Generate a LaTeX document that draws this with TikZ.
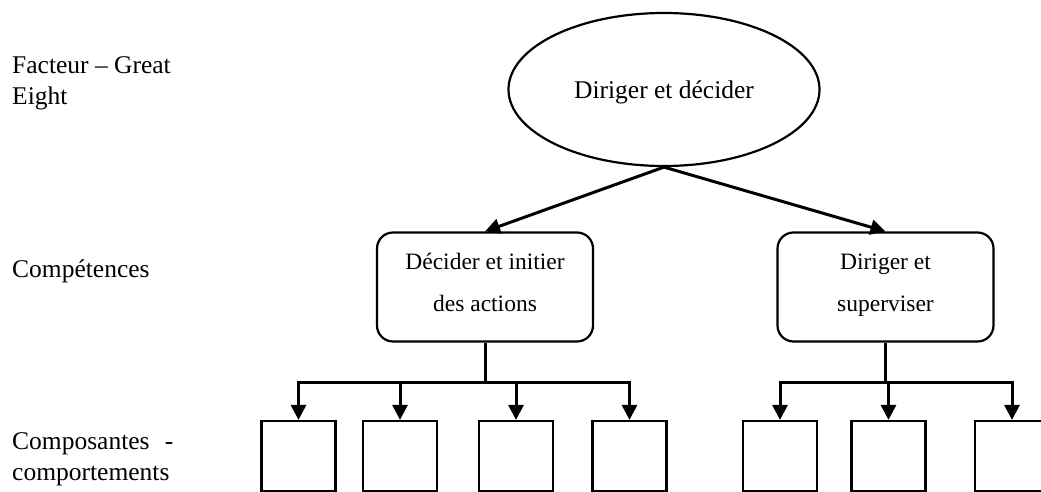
\documentclass[tikz,border=0pt]{standalone}
\usepackage{fontspec}
\setmainfont{Liberation Serif}
\usetikzlibrary{shapes.geometric,arrows.meta}
\tikzset{
  lbl/.style={anchor=base west,inner sep=0pt,align=left,font=\fontsize{25.5}{31}\selectfont},
  topnode/.style={ellipse,draw,line width=2.2pt,inner sep=0pt,text depth=0pt,minimum width=311pt,minimum height=153pt,font=\fontsize{25.5}{31}\selectfont},
  compbox/.style={rectangle,rounded corners=16pt,draw,line width=2.2pt,inner sep=0pt,text height=58pt,text depth=10pt,minimum width=216pt,minimum height=109pt,align=center,font=\fontsize{23.5}{42}\selectfont},
  smallbox/.style={rectangle,draw,line width=2.2pt,inner sep=0pt,minimum width=74pt,minimum height=70pt},
  conn/.style={line width=3pt},
  arr/.style={line width=3pt,-{Triangle[length=15pt,width=15pt]}},
}
\begin{document}
\begin{tikzpicture}[x=1pt,y=-1pt]
\useasboundingbox (0,0) rectangle (1041,492);
\clip (0,0) rectangle (1041,492);
% left labels
\node[lbl] (lfact) at (12,105) {Facteur -- Great\\Eight};
\node[lbl] (lcomp) at (12,277) {Compétences};
\node[lbl] (lcpt) at (12,480) {Composantes\hspace{0.6em}-\\comportements};
% top ellipse
\node[topnode] (e) at (664,89.5) {Diriger et décider};
% competence boxes
\node[compbox] (b1) at (485,287) {Décider et initier\\des actions};
\node[compbox] (b2) at (885.5,287) {Diriger et\\superviser};
% small boxes
\node[smallbox] (s1) at (298.5,456) {};
\node[smallbox] (s2) at (400,456) {};
\node[smallbox] (s3) at (516,456) {};
\node[smallbox] (s4) at (629.5,456) {};
\node[smallbox] (s5) at (780,456) {};
\node[smallbox] (s6) at (888.5,456) {};
\node[smallbox] (s7) at (1012,456) {};
% connectors from ellipse
\draw[arr] (e.south) -- (b1.north);
\draw[arr] (e.south) -- (b2.north);
% junctions
\coordinate (j1) at (485,382);
\coordinate (j2) at (885.5,382);
\draw[conn] (b1.south) -- (j1);
\draw[conn] (b2.south) -- (j2);
\draw[conn,line cap=rect] (j1 -| s1.north) -- (j1 -| s4.north);
\draw[conn,line cap=rect] (j2 -| s5.north) -- (j2 -| s7.north);
\foreach \s in {s1,s2,s3,s4}{\draw[arr] (j1 -| \s.north) -- (\s.north);}
\foreach \s in {s5,s6,s7}{\draw[arr] (j2 -| \s.north) -- (\s.north);}
\end{tikzpicture}
\end{document}
